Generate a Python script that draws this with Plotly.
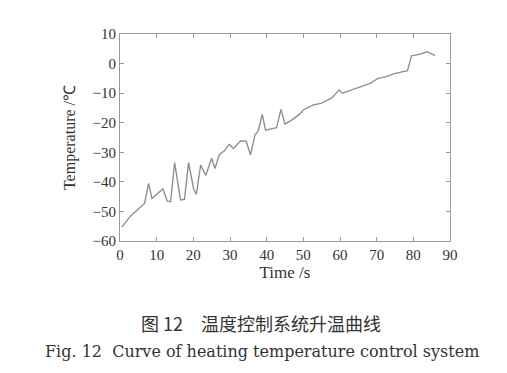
import plotly.graph_objects as go

time_s = [0.5, 2.9, 6.7, 7.8, 8.7, 11.7, 12.9, 13.8, 14.9, 16.5, 17.6, 18.7, 20.1, 20.8,
          22.0, 23.4, 25.0, 25.9, 27.1, 28.4, 29.8, 30.9, 32.9, 34.4, 35.6, 36.8, 37.7,
          38.8, 39.7, 41.4, 42.7, 43.9, 45.0, 46.8, 48.9, 50.0, 52.7, 55.0, 57.7, 59.8,
          60.7, 63.2, 65.5, 68.2, 70.4, 72.7, 74.5, 76.8, 78.4, 79.5, 81.8, 83.8, 85.9]
temp_c = [-55.3, -51.5, -47.3, -40.5, -45.6, -42.4, -46.5, -46.7, -33.5, -46.1, -45.9, -33.5,
          -42.5, -44.2, -34.3, -37.8, -32.0, -35.5, -30.8, -29.6, -27.3, -28.7, -26.2, -26.2,
          -30.9, -24.2, -22.8, -17.2, -22.5, -21.9, -21.7, -15.5, -20.5, -19.1, -17.2, -15.7,
          -14.0, -13.4, -11.7, -8.9, -10.0, -8.9, -7.8, -6.7, -5.0, -4.4, -3.5, -3.0, -2.4,
          2.6, 3.2, 4.0, 2.7]

x_ticks = [0, 10, 20, 30, 40, 50, 60, 70, 80, 90]
y_ticks = [-60, -50, -40, -30, -20, -10, 0, 10]

serif = "Liberation Serif, Times New Roman, serif"
axis_col = "#9a9a9a"

fig = go.Figure()
fig.add_trace(go.Scatter(x=time_s, y=temp_c, mode="lines",
                         line=dict(color="#909090", width=1.4), showlegend=False))

fig.update_layout(
    width=507, height=373,
    margin=dict(l=112, r=65, t=26, b=140),
    paper_bgcolor="white", plot_bgcolor="white",
    font=dict(family=serif, size=15, color="#333333"),
)
fig.update_xaxes(range=[0, 90], tickvals=x_ticks, showgrid=False, zeroline=False,
                 showline=True, linecolor=axis_col, linewidth=1, mirror="ticks",
                 ticks="inside", ticklen=4, tickcolor=axis_col,
                 title=dict(text="Time /s", standoff=2, font=dict(size=17)))
fig.update_yaxes(range=[-60, 10], tickvals=y_ticks, showgrid=False, zeroline=False,
                 showline=True, linecolor=axis_col, linewidth=1, mirror="ticks",
                 ticks="inside", ticklen=4, tickcolor=axis_col,
                 title=dict(text="Temperature /℃", standoff=12, font=dict(size=16)))

fig.add_annotation(text="图 12　温度控制系统升温曲线", xref="paper", yref="paper",
                   x=0.428, y=-0.396, xanchor="center", yanchor="middle", showarrow=False,
                   font=dict(family="Noto Sans CJK SC", size=18, color="#333333"))
fig.add_annotation(text="Fig. 12  Curve of heating temperature control system", xref="paper", yref="paper",
                   x=0.43, y=-0.536, xanchor="center", yanchor="middle", showarrow=False,
                   font=dict(family="DejaVu Serif, serif", size=16, color="#333333"))

fig.write_html("out.html")
